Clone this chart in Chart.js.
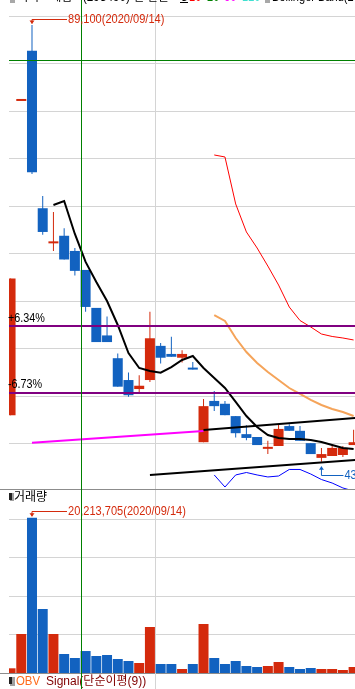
<!DOCTYPE html>
<html lang="ko">
<head>
  <meta charset="utf-8" />
  <title>카카오게임즈 일봉</title>
  <style>
html, body { margin: 0; padding: 0; background: #fff; }
#wrap { position: relative; width: 355px; height: 689px; overflow: hidden; background: #fff; }
#priceChart { position: absolute; left: 0; top: 0; }
#volChart { position: absolute; left: 0; top: 489px; }
  </style>
</head>
<body>
  <div id="wrap">
    <canvas id="priceChart" width="355" height="489"></canvas>
    <canvas id="volChart" width="355" height="200"></canvas>
  </div>
  <script src="https://cdn.jsdelivr.net/npm/chart.js"></script>
  <script>
// 일봉 데이터 (화면에서 읽은 값)
const dates = ['2020/09/10','2020/09/11','2020/09/14','2020/09/15','2020/09/16','2020/09/17','2020/09/18',
  '2020/09/21','2020/09/22','2020/09/23','2020/09/24','2020/09/25','2020/09/28','2020/09/29',
  '2020/10/05','2020/10/06','2020/10/07','2020/10/08','2020/10/12','2020/10/13','2020/10/14',
  '2020/10/15','2020/10/16','2020/10/19','2020/10/20','2020/10/21','2020/10/22','2020/10/23',
  '2020/10/26','2020/10/27','2020/10/28','2020/10/29','2020/10/30'];
const opens  = [48000,81100,86400,69800,66100,66900,65300,63300,59300,56400,54000,51700,50750,51700,55300,54450,54050,
  52950,45150,49500,49200,47900,46000,45700,44450,44750,46850,46350,45050,43500,43700,43800,44850];
const highs  = [62400,81100,89100,71100,69400,67700,65600,63300,59300,58400,54500,52500,52200,58900,55600,56250,54850,
  53600,49700,50550,49500,47900,46950,45700,45300,47050,47050,46850,45050,44550,44850,44750,46450];
const lows   = [48000,81100,73400,67000,65300,64400,62700,58900,55700,55700,51000,49950,50450,51500,53450,54150,53550,
  52800,45150,48450,48000,45650,45350,44850,43900,44750,46350,45300,43900,43100,43700,43600,44850];
const closes = [62400,81100,73600,67300,66200,64400,63200,59400,55700,55700,51000,50100,51100,56100,54050,54150,54450,
  52800,48950,48950,48000,46100,45600,44850,44650,46550,46350,45300,43900,43900,44550,44550,45150];
const volumes = [612000,5080000,20213705,8330000,5080000,2470000,1950000,2860000,2210000,2340000,1820000,1560000,
  1300000,5990000,1170000,1170000,520000,1170000,6380000,1950000,1170000,1560000,910000,780000,910000,1430000,
  780000,520000,650000,520000,520000,390000,780000];

// 이동평균(5), 볼린저밴드(20) - index 4, 19 부터
const ma5Start = 4;
const ma5 = [70140,70560,67090,64140,62030,60030,57500,54550,52970,52650,52470,53070,53810,54230,52970,51920,
  50860,49390,47910,46750,45910,45590,45490,45490,45380,45170,44860,44540,44440];
const bbStart = 19;
const bbUpper  = [75410,75200,70250,67300,65610,63710,61710,59390,57970,57290,56550,56290,56130,55920];
const bbMiddle = [58550,57920,56130,54650,53500,52550,51700,50860,50230,49600,49070,48650,48330,47910];
const bbLower  = [41700,40430,41700,41960,41700,41490,41590,42280,42280,41800,41220,40850,40330,40010];

// 추세선 [index, price]
const trendMagenta = [[2, 45100], [18, 46330]];
const trendUpper = [[18, 46430], [33, 47780]];
const trendLower = [[13, 41700], [33, 43350]];
const levelPrices = [57420, 50370];
const levelLabels = ['+6.34%', '-6.73%'];

const priceTicks = [45000,50000,55000,60000,65000,70000,75000,80000,85000,90000];
const volumeTicks = [5000000,10000000,15000000,20000000];
const monthBreaks = [13.5];
const crossX = 6.6, crossY = 85400;
const highIdx = 2, lowIdx = 29, volMaxIdx = 2;

const UP = '#d42a0c', DOWN = '#1262c0';
const GRID = '#d4d4d4';
const FONT = '12px "Liberation Sans", "Noto Sans CJK KR", sans-serif';
const candleColors = closes.map((c, i) => c >= opens[i] ? UP : DOWN);

function pts(arr, start) {
  return arr.map((v, i) => ({x: i + start, y: v}));
}
function seg(p) {
  return p.map(d => ({x: d[0], y: d[1]}));
}
function fmt(n) {
  return n.toString().replace(/\B(?=(\d{3})+(?!\d))/g, ',');
}
function text(ctx, s, x, y, color, sx, base) {
  ctx.save();
  ctx.font = FONT;
  ctx.fillStyle = color;
  ctx.textBaseline = base || 'middle';
  ctx.translate(x, y);
  ctx.scale(sx || 1, 1);
  ctx.fillText(s, 0, 0);
  ctx.restore();
}
function highMarker(ctx, cx, topY, s, color) {
  const ly = Math.floor(topY - 6) + 0.5;
  ctx.save();
  ctx.strokeStyle = color; ctx.fillStyle = color; ctx.lineWidth = 1;
  ctx.beginPath(); ctx.moveTo(cx, topY - 1.5); ctx.lineTo(cx, ly); ctx.lineTo(cx + 35, ly); ctx.stroke();
  ctx.beginPath(); ctx.moveTo(cx - 2.5, topY - 4.5); ctx.lineTo(cx + 2.5, topY - 4.5); ctx.lineTo(cx, topY - 1); ctx.fill();
  ctx.restore();
  text(ctx, s, cx + 36, ly, color, 0.92);
}
function lowMarker(ctx, cx, lowY, s, color) {
  const ly = Math.floor(lowY + 14) + 0.5;
  ctx.save();
  ctx.strokeStyle = color; ctx.fillStyle = color; ctx.lineWidth = 1;
  ctx.beginPath(); ctx.moveTo(cx, lowY + 5); ctx.lineTo(cx, ly); ctx.lineTo(cx + 22, ly); ctx.stroke();
  ctx.beginPath(); ctx.moveTo(cx - 2.5, lowY + 8); ctx.lineTo(cx + 2.5, lowY + 8); ctx.lineTo(cx, lowY + 4.5); ctx.fill();
  ctx.restore();
  text(ctx, s, cx + 23, ly, color, 0.92);
}
function vline(ctx, x, y0, y1, color) {
  ctx.save();
  ctx.strokeStyle = color; ctx.lineWidth = 1;
  ctx.beginPath(); ctx.moveTo(Math.floor(x) + 0.5, y0); ctx.lineTo(Math.floor(x) + 0.5, y1); ctx.stroke();
  ctx.restore();
}
function hline(ctx, y, x0, x1, color, w) {
  ctx.save();
  ctx.strokeStyle = color; ctx.lineWidth = w || 1;
  const yy = w === 2 ? Math.round(y) : Math.floor(y) + 0.5;
  ctx.beginPath(); ctx.moveTo(x0, yy); ctx.lineTo(x1, yy); ctx.stroke();
  ctx.restore();
}

const xScaleOpts = {
  type: 'linear',
  min: -0.145,
  max: 32.13,
  offset: false,
  ticks: { display: false },
  border: { display: false },
  grid: { color: GRID, drawTicks: false, offset: false },
  afterBuildTicks: s => { s.ticks = monthBreaks.map(v => ({value: v})); }
};

const pricePlugin = {
  id: 'priceExtras',
  afterDatasetsDraw(chart) {
    const {ctx, chartArea: a, scales: {x, y}} = chart;
    // 수평선 (+6.34% / -6.73%)
    levelPrices.forEach((p, i) => {
      const py = y.getPixelForValue(p);
      hline(ctx, py, a.left, a.right, '#800080', 2);
      text(ctx, levelLabels[i], 8, py - 7.5, '#000', 0.9);
    });
    // 십자선
    hline(ctx, y.getPixelForValue(crossY), a.left, a.right, '#008000');
    vline(ctx, x.getPixelForValue(crossX), 0, chart.height, '#008000');
    // 최고/최저 표시
    highMarker(ctx, x.getPixelForValue(highIdx), y.getPixelForValue(highs[highIdx]),
      fmt(highs[highIdx]) + '(' + dates[highIdx] + ')', '#d42a0c');
    lowMarker(ctx, x.getPixelForValue(lowIdx), y.getPixelForValue(lows[lowIdx]),
      fmt(lows[lowIdx]) + '(' + dates[lowIdx] + ')', '#1262c0');
    // 상단 범례 (잘림)
    ctx.fillStyle = '#a8a8a8'; ctx.fillRect(10, 0, 5, 3);
    text(ctx, '카카오게임즈(293490) 일 단순', 18, 0.5, '#000', 0.98, 'alphabetic');
    text(ctx, '5', 181, 0.5, '#000', 1, 'alphabetic');
    hline(ctx, 2, 180, 188, '#000');
    text(ctx, '10', 189, 1, '#ff0000', 0.92, 'alphabetic');
    text(ctx, '20', 207, 1, '#008000', 0.92, 'alphabetic');
    text(ctx, '60', 224, 1, '#ff00ff', 0.92, 'alphabetic');
    text(ctx, '120', 242, 1, '#40e0d0', 0.92, 'alphabetic');
    ctx.fillStyle = '#a8a8a8'; ctx.fillRect(265, 0, 5, 3);
    text(ctx, 'Bollinger Band(20,2)', 272, 0.5, '#000', 0.92, 'alphabetic');
  }
};

const lineDs = (label, data, color, width, order) => ({
  type: 'line', label, data, borderColor: color, borderWidth: width,
  pointRadius: 0, fill: false, tension: 0, order, spanGaps: false
});

new Chart(document.getElementById('priceChart'), {
  type: 'bar',
  data: {
    datasets: [
      { label: 'wick', data: dates.map((d, i) => ({x: i, y: [lows[i], highs[i]]})),
        backgroundColor: candleColors, barThickness: 1, grouped: false, inflateAmount: 0, order: 20 },
      { label: 'body', data: dates.map((d, i) => ({x: i, y: [opens[i], closes[i]]})),
        backgroundColor: candleColors, barThickness: 10, minBarLength: 2, grouped: false, inflateAmount: 0, order: 19 },
      lineDs('BB upper', pts(bbUpper, bbStart), '#ff0000', 1, 10),
      lineDs('BB middle', pts(bbMiddle, bbStart), '#f5a45a', 2, 9),
      lineDs('BB lower', pts(bbLower, bbStart), '#0000ff', 1, 8),
      lineDs('MA5', pts(ma5, ma5Start), '#000000', 2, 7),
      lineDs('trend1', seg(trendMagenta), '#ff00ff', 2, 6),
      lineDs('trend2', seg(trendUpper), '#000000', 2, 5),
      lineDs('trend3', seg(trendLower), '#000000', 2, 4)
    ]
  },
  options: {
    responsive: false,
    animation: false,
    devicePixelRatio: 1,
    layout: { padding: {left: 9, right: 0, top: 0, bottom: 0} },
    plugins: { legend: {display: false}, tooltip: {enabled: false} },
    scales: {
      x: xScaleOpts,
      y: {
        type: 'linear', position: 'right', min: 40221, max: 91737,
        ticks: { display: false },
        border: { display: false },
        grid: { color: GRID, drawTicks: false },
        afterBuildTicks: s => { s.ticks = priceTicks.map(v => ({value: v})); }
      }
    }
  },
  plugins: [pricePlugin]
});

const volPlugin = {
  id: 'volExtras',
  afterDatasetsDraw(chart) {
    const {ctx, chartArea: a, scales: {x, y}} = chart;
    hline(ctx, a.top, 0, chart.width, '#8c8c8c');
    hline(ctx, a.bottom, 0, chart.width, '#8c8c8c');
    // 월 구분선을 하단 라벨 줄까지
    monthBreaks.forEach(m => vline(ctx, x.getPixelForValue(m), a.bottom, chart.height, GRID));
    // 거래량 제목
    ctx.fillStyle = '#a0a0a0'; ctx.fillRect(10, 4, 4, 8);
    ctx.fillStyle = '#222'; ctx.fillRect(9, 4, 3, 7);
    text(ctx, '거래량', 14, 8.5, '#000', 1);
    highMarker(ctx, x.getPixelForValue(volMaxIdx), y.getPixelForValue(volumes[volMaxIdx]),
      fmt(volumes[volMaxIdx]) + '(' + dates[volMaxIdx] + ')', '#d42a0c');
    // 하단 OBV 라벨
    ctx.fillStyle = '#a0a0a0'; ctx.fillRect(10, a.bottom + 4, 5, 9);
    ctx.fillStyle = '#222'; ctx.fillRect(9, a.bottom + 4, 3, 7);
    text(ctx, 'OBV', 16, a.bottom + 9, '#ff6a1a', 0.95);
    text(ctx, 'Signal(단순이평(9))', 46, a.bottom + 9, '#800000', 1);
    vline(ctx, x.getPixelForValue(crossX), 0, chart.height, '#008000');
  }
};

new Chart(document.getElementById('volChart'), {
  type: 'bar',
  data: {
    datasets: [{
      label: '거래량', data: dates.map((d, i) => ({x: i, y: volumes[i]})),
      backgroundColor: candleColors, barThickness: 10, grouped: false, inflateAmount: 0
    }]
  },
  options: {
    responsive: false,
    animation: false,
    devicePixelRatio: 1,
    layout: { padding: {left: 9, right: 0, top: 0, bottom: 16} },
    plugins: { legend: {display: false}, tooltip: {enabled: false} },
    scales: {
      x: xScaleOpts,
      y: {
        type: 'linear', position: 'right', min: 0, max: 23950000,
        ticks: { display: false },
        border: { display: false },
        grid: { color: GRID, drawTicks: false },
        afterBuildTicks: s => { s.ticks = volumeTicks.map(v => ({value: v})); }
      }
    }
  },
  plugins: [volPlugin]
});
  </script>
</body>
</html>
